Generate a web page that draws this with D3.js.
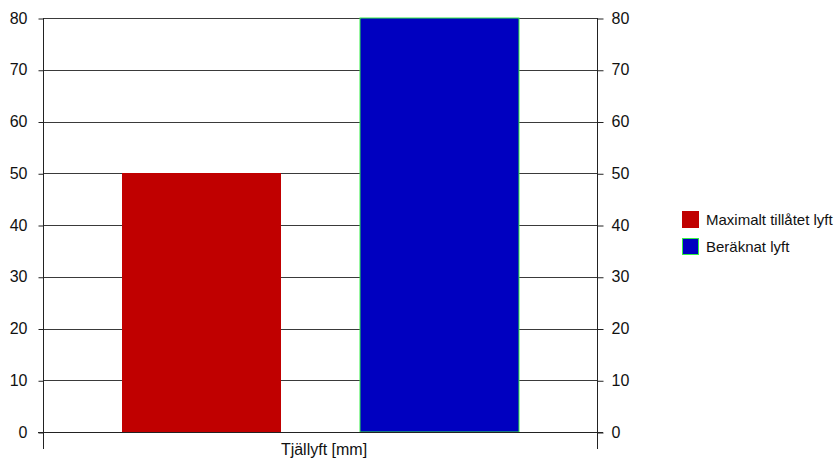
<!DOCTYPE html>
<html>
<head>
<meta charset="utf-8">
<script src="https://cdn.jsdelivr.net/npm/d3@7/dist/d3.min.js"></script>
<style>
  body { margin: 0; background: #fff; }
  text { font-family: "Liberation Sans", Arial, sans-serif; font-size: 15px; fill: #111; }
</style>
</head>
<body>
<svg id="chart" width="840" height="460"></svg>
<script>
const category = "Tjällyft [mm]";
const seriesNames = ["Maximalt tillåtet lyft", "Beräknat lyft"];
const seriesValues = [50, 80];
const seriesColors = ["#c00000", "#0000c0"];
const seriesStrokes = ["none", "#33ee44"];
const yTicks = [0, 10, 20, 30, 40, 50, 60, 70, 80];

const svg = d3.select("#chart");
const plotLeft = 43, plotRight = 597, plotTop = 18, plotBottom = 432;
const tickFont = "'Liberation Sans', Arial, sans-serif";

const y = d3.scaleLinear().domain([0, 80]).range([plotBottom, plotTop]);
const x = d3.scaleBand().domain(seriesNames).range([plotLeft, plotRight])
  .paddingInner(1 / 3).paddingOuter(1 / 3);

// horizontal gridlines
svg.append("g").selectAll("line").data(yTicks.filter(d => d > 0)).join("line")
  .attr("x1", plotLeft).attr("x2", plotRight)
  .attr("y1", d => Math.round(y(d)) + 0.5).attr("y2", d => Math.round(y(d)) + 0.5)
  .attr("stroke", "#3a3a3a").attr("stroke-width", 1);

// bars
svg.append("g").selectAll("rect").data(seriesNames).join("rect")
  .attr("x", d => Math.round(x(d)))
  .attr("width", Math.round(x.bandwidth()) + 1)
  .attr("y", (d, i) => Math.round(y(seriesValues[i])))
  .attr("height", (d, i) => Math.round(y(0) - y(seriesValues[i])))
  .attr("fill", (d, i) => seriesColors[i])
  .attr("stroke", (d, i) => seriesStrokes[i])
  .attr("stroke-width", 1);

// left value axis
const yl = svg.append("g").attr("transform", `translate(${plotLeft + 0.5},0)`)
  .call(d3.axisLeft(y).tickValues(yTicks).tickSize(5).tickPadding(11));
yl.select(".domain").remove();
yl.selectAll(".tick line").attr("transform", "translate(0,0.5)").attr("stroke", "#222");
yl.selectAll("text").style("font-family", tickFont).style("font-size", "16px").style("fill", "#111");

// right value axis
const yr = svg.append("g").attr("transform", `translate(${plotRight + 0.5},0)`)
  .call(d3.axisRight(y).tickValues(yTicks).tickSize(6).tickPadding(8));
yr.select(".domain").remove();
yr.selectAll(".tick line").attr("transform", "translate(0,0.5)").attr("stroke", "#222");
yr.selectAll("text").style("font-family", tickFont).style("font-size", "16px").style("fill", "#111");

// axis frame lines (extend below baseline as category ticks)
svg.append("line").attr("x1", plotLeft + 0.5).attr("x2", plotLeft + 0.5).attr("y1", plotTop).attr("y2", 449)
  .attr("stroke", "#222");
svg.append("line").attr("x1", plotRight + 0.5).attr("x2", plotRight + 0.5).attr("y1", plotTop).attr("y2", 449)
  .attr("stroke", "#222");
svg.append("line").attr("x1", 38).attr("x2", 603)
  .attr("y1", Math.round(y(0)) + 0.5).attr("y2", Math.round(y(0)) + 0.5)
  .attr("stroke", "#222");

// category label
svg.append("text").attr("x", (plotLeft + plotRight) / 2 + 4).attr("y", 455)
  .attr("text-anchor", "middle").style("font-size", "16px").text(category);

// legend
const lg = svg.append("g").attr("transform", "translate(682,211)");
const items = lg.selectAll("g").data(seriesNames).join("g")
  .attr("transform", (d, i) => `translate(0,${i * 27})`);
items.append("rect").attr("x", 0.5).attr("y", 0.5).attr("width", 16).attr("height", 16)
  .attr("fill", (d, i) => seriesColors[i])
  .attr("stroke", (d, i) => seriesStrokes[i] === "none" ? seriesColors[i] : seriesStrokes[i]);
items.append("text").attr("x", 24).attr("y", 13.5).text(d => d);
</script>
</body>
</html>
